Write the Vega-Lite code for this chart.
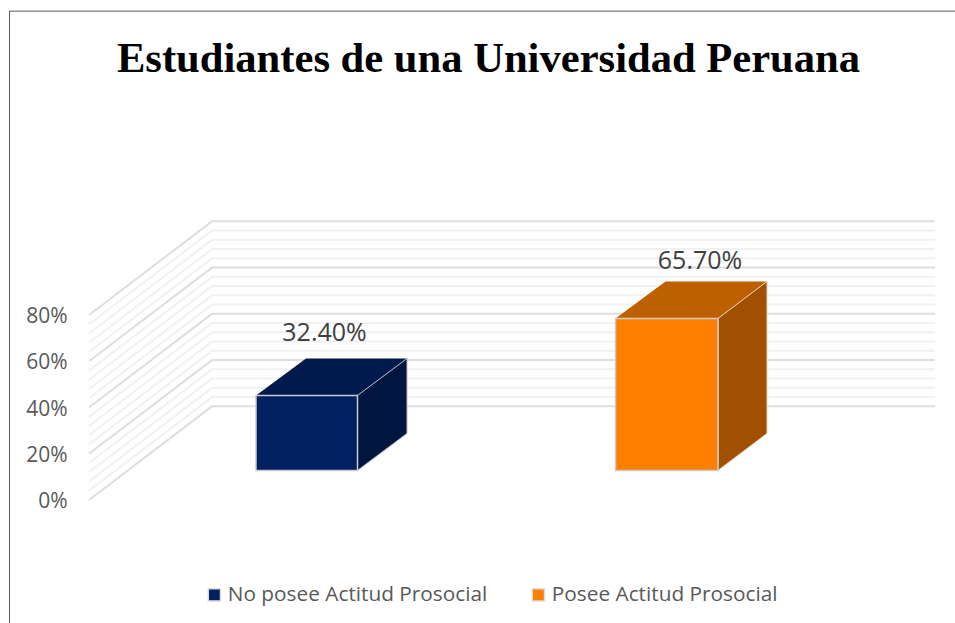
{"$schema":"https://vega.github.io/schema/vega-lite/v6.json","width":955,"height":623,"padding":0,"autosize":"none","background":"white","config":{"view":{"stroke":null}},
"title":{"text":"Estudiantes de una Universidad Peruana","font":"Liberation Serif","fontWeight":"bold","fontSize":42.6,"color":"#000000","anchor":"middle","frame":"group","offset":-81,"dx":11},
"datasets":{
"frame":[{"x":9.5,"y":-53.2,"o":0},{"x":9.5,"y":211.4,"o":1},{"x":955,"y":211.4,"o":2}],
"major":[{"l":0,"x":89,"y":0},{"l":0,"x":212,"y":40.5},{"l":0,"x":935,"y":40.5},{"l":20,"x":89,"y":20},{"l":20,"x":212,"y":60.5},{"l":20,"x":935,"y":60.5},{"l":40,"x":89,"y":40},{"l":40,"x":212,"y":80.5},{"l":40,"x":935,"y":80.5},{"l":60,"x":89,"y":60},{"l":60,"x":212,"y":100.5},{"l":60,"x":935,"y":100.5},{"l":80,"x":89,"y":80},{"l":80,"x":212,"y":120.5},{"l":80,"x":935,"y":120.5}],
"minor":[{"l":4,"x":89,"y":4},{"l":4,"x":212,"y":44.5},{"l":4,"x":935,"y":44.5},{"l":8,"x":89,"y":8},{"l":8,"x":212,"y":48.5},{"l":8,"x":935,"y":48.5},{"l":12,"x":89,"y":12},{"l":12,"x":212,"y":52.5},{"l":12,"x":935,"y":52.5},{"l":16,"x":89,"y":16},{"l":16,"x":212,"y":56.5},{"l":16,"x":935,"y":56.5},{"l":24,"x":89,"y":24},{"l":24,"x":212,"y":64.5},{"l":24,"x":935,"y":64.5},{"l":28,"x":89,"y":28},{"l":28,"x":212,"y":68.5},{"l":28,"x":935,"y":68.5},{"l":32,"x":89,"y":32},{"l":32,"x":212,"y":72.5},{"l":32,"x":935,"y":72.5},{"l":36,"x":89,"y":36},{"l":36,"x":212,"y":76.5},{"l":36,"x":935,"y":76.5},{"l":44,"x":89,"y":44},{"l":44,"x":212,"y":84.5},{"l":44,"x":935,"y":84.5},{"l":48,"x":89,"y":48},{"l":48,"x":212,"y":88.5},{"l":48,"x":935,"y":88.5},{"l":52,"x":89,"y":52},{"l":52,"x":212,"y":92.5},{"l":52,"x":935,"y":92.5},{"l":56,"x":89,"y":56},{"l":56,"x":212,"y":96.5},{"l":56,"x":935,"y":96.5},{"l":64,"x":89,"y":64},{"l":64,"x":212,"y":104.5},{"l":64,"x":935,"y":104.5},{"l":68,"x":89,"y":68},{"l":68,"x":212,"y":108.5},{"l":68,"x":935,"y":108.5},{"l":72,"x":89,"y":72},{"l":72,"x":212,"y":112.5},{"l":72,"x":935,"y":112.5},{"l":76,"x":89,"y":76},{"l":76,"x":212,"y":116.5},{"l":76,"x":935,"y":116.5}],
"bars":[{"serie":"No posee Actitud Prosocial","value":0.324,"x0":256,"x1":357.5,"base":12.8,"top":45.2,"lx":324.5,"ly":72.2},{"serie":"Posee Actitud Prosocial","value":0.657,"x0":615.5,"x1":718,"base":12.8,"top":78.5,"lx":700,"ly":103.4}],
"topNo":[{"x":256,"lo":45.2,"hi":45.2},{"x":306,"lo":45.2,"hi":61.2},{"x":357.5,"lo":45.2,"hi":61.2},{"x":407,"lo":61.2,"hi":61.2}],
"sideNo":[{"x":357.5,"lo":12.8,"hi":45.2},{"x":407,"lo":28.8,"hi":61.2}],
"topSi":[{"x":615.5,"lo":78.5,"hi":78.5},{"x":665.5,"lo":78.5,"hi":94.5},{"x":718,"lo":78.5,"hi":94.5},{"x":767,"lo":94.5,"hi":94.5}],
"sideSi":[{"x":718,"lo":12.8,"hi":78.5},{"x":767,"lo":28.8,"hi":94.5}]
},
"layer":[
{"data":{"name":"frame"},"mark":{"type":"line","color":"#595959","strokeWidth":1,"clip":false},"encoding":{"x":{"field":"x","type":"quantitative","scale":{"domain":[0,955],"nice":false,"zero":false},"axis":null},"y":{"field":"y","type":"quantitative","scale":{"domain":[-53.19,216.22],"nice":false,"zero":false},"axis":{"values":[0,20,40,60,80],"labelExpr":"datum.value + '%'","domain":false,"ticks":false,"grid":false,"title":null,"offset":-67,"labelPadding":0,"labelOffset":1.5,"labelFont":"Open Sans","labelFontSize":21,"labelColor":"#595959"}},"order":{"field":"o"}}},
{"data":{"name":"minor"},"mark":{"type":"line","color":"#f1f1f1","strokeWidth":2},"encoding":{"x":{"field":"x","type":"quantitative"},"y":{"field":"y","type":"quantitative"},"detail":{"field":"l"}}},
{"data":{"name":"major"},"mark":{"type":"line","color":"#dedede","strokeWidth":2},"encoding":{"x":{"field":"x","type":"quantitative"},"y":{"field":"y","type":"quantitative"},"detail":{"field":"l"}}},
{"data":{"name":"topNo"},"mark":{"type":"area","orient":"vertical","color":"#001A4D"},"encoding":{"x":{"field":"x","type":"quantitative"},"y":{"field":"lo","type":"quantitative"},"y2":{"field":"hi"}}},
{"data":{"name":"sideNo"},"mark":{"type":"area","orient":"vertical","color":"#00163F","stroke":"#b5bac6","strokeWidth":1},"encoding":{"x":{"field":"x","type":"quantitative"},"y":{"field":"lo","type":"quantitative"},"y2":{"field":"hi"}}},
{"data":{"name":"topSi"},"mark":{"type":"area","orient":"vertical","color":"#BF6000"},"encoding":{"x":{"field":"x","type":"quantitative"},"y":{"field":"lo","type":"quantitative"},"y2":{"field":"hi"}}},
{"data":{"name":"sideSi"},"mark":{"type":"area","orient":"vertical","color":"#A05000","stroke":"#e6d2bd","strokeWidth":1},"encoding":{"x":{"field":"x","type":"quantitative"},"y":{"field":"lo","type":"quantitative"},"y2":{"field":"hi"}}},
{"data":{"name":"bars"},"mark":{"type":"rect","stroke":"#c9cbd0","strokeWidth":1.5},"encoding":{"x":{"field":"x0","type":"quantitative"},"x2":{"field":"x1"},"y":{"field":"base","type":"quantitative"},"y2":{"field":"top"},"color":{"field":"serie","type":"nominal","scale":{"domain":["No posee Actitud Prosocial","Posee Actitud Prosocial"],"range":["#002060","#FF8000"]},"legend":{"title":null,"orient":"none","legendX":204,"legendY":584,"direction":"horizontal","columns":2,"columnPadding":40,"symbolType":"square","symbolSize":150,"symbolStrokeColor":"#dddddd","symbolStrokeWidth":1.5,"labelFont":"Open Sans","labelFontSize":20.8,"labelColor":"#595959","labelOffset":3,"labelLimit":320}}}},
{"data":{"name":"bars"},"mark":{"type":"text","font":"Open Sans","fontSize":25,"color":"#404040"},"encoding":{"x":{"field":"lx","type":"quantitative"},"y":{"field":"ly","type":"quantitative"},"text":{"field":"value","type":"quantitative","format":".2%"}}}
]}
